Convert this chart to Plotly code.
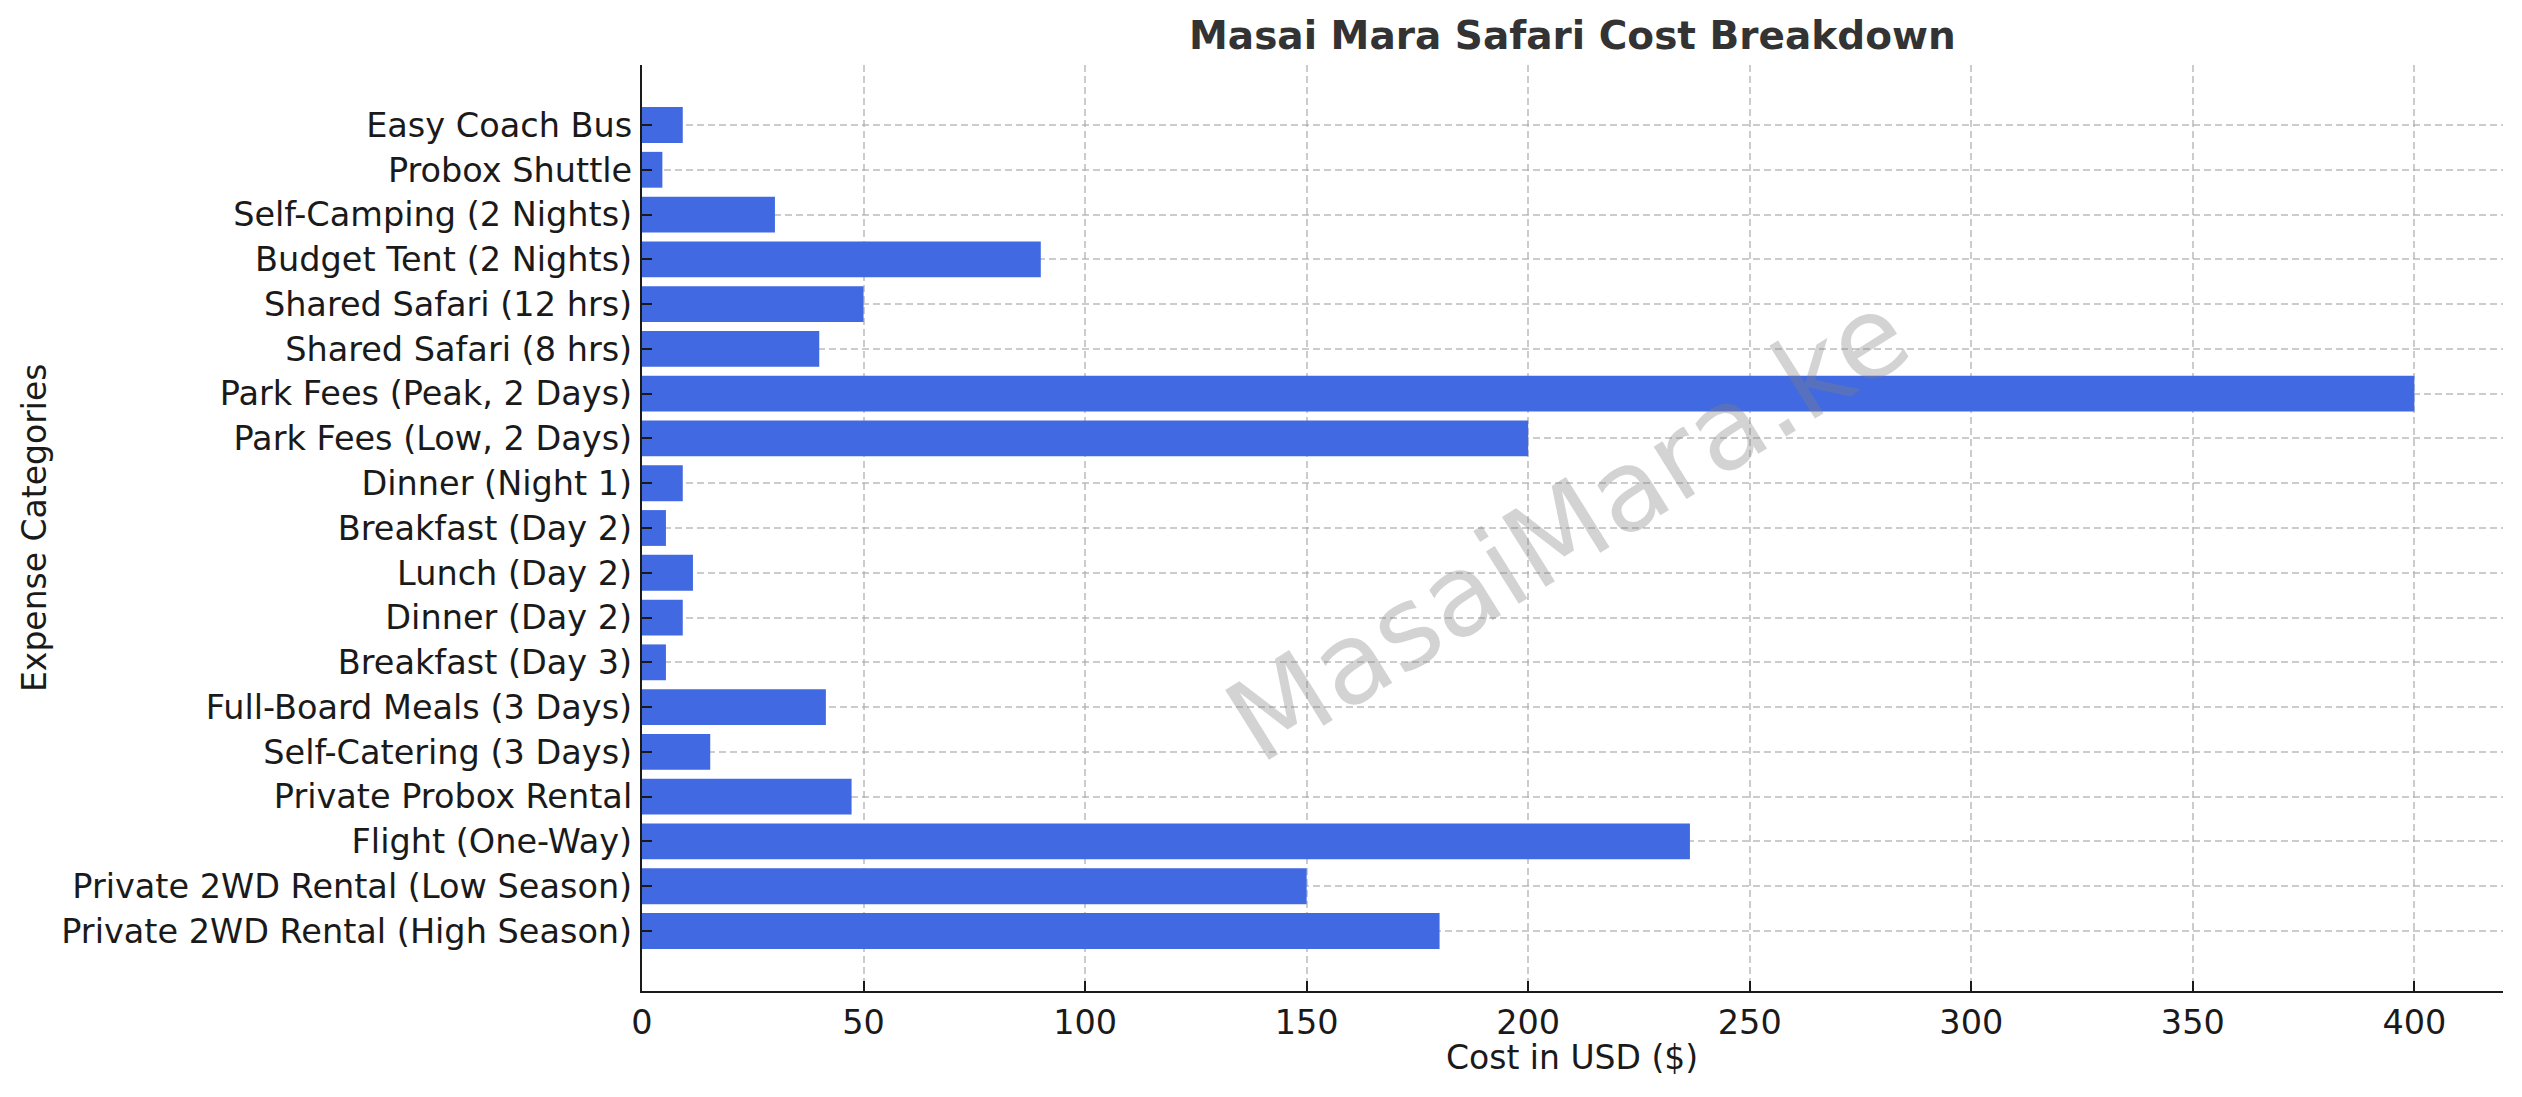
import plotly.graph_objects as go

categories = [
    "Private 2WD Rental (High Season)",
    "Private 2WD Rental (Low Season)",
    "Flight (One-Way)",
    "Private Probox Rental",
    "Self-Catering (3 Days)",
    "Full-Board Meals (3 Days)",
    "Breakfast (Day 3)",
    "Dinner (Day 2)",
    "Lunch (Day 2)",
    "Breakfast (Day 2)",
    "Dinner (Night 1)",
    "Park Fees (Low, 2 Days)",
    "Park Fees (Peak, 2 Days)",
    "Shared Safari (8 hrs)",
    "Shared Safari (12 hrs)",
    "Budget Tent (2 Nights)",
    "Self-Camping (2 Nights)",
    "Probox Shuttle",
    "Easy Coach Bus",
]
costs_usd = [180, 150, 236.5, 47.3, 15.4, 41.5, 5.4, 9.2, 11.5, 5.4, 9.2,
             200, 400, 40, 50, 90, 30, 4.6, 9.2]
x_ticks = [0, 50, 100, 150, 200, 250, 300, 350, 400]

# page body has an 8px margin; figure sized to fit the window
OFF = 8
W, H = 2522 - OFF, 1097 - OFF
# plot area in screen pixels: x 642..2503, y 65..991
px0, px1, py0, py1 = 642 - OFF, 2503 - OFF, 65 - OFF, 991 - OFF
L, R, T, B = px0, W - px1, py0, H - py1
FONT = "DejaVu Sans"
plot_w = px1 - px0
plot_h = py1 - py0


def paper_x(sx):
    return (sx - OFF - px0) / plot_w


def paper_y(sy):
    return 1 - (sy - OFF - py0) / plot_h


fig = go.Figure(go.Bar(
    x=costs_usd, y=categories, orientation="h",
    marker=dict(color="#4169E1", line=dict(width=0)),
    width=0.8,
))

fig.update_layout(
    width=W, height=H,
    margin=dict(l=L, r=R, t=T, b=B, pad=0, autoexpand=False),
    paper_bgcolor="white", plot_bgcolor="white",
    font=dict(family=FONT, size=33, color="#1a1a1a"),
    showlegend=False,
)

grid = dict(showgrid=True, gridcolor="rgba(170,170,170,0.6)", gridwidth=1.6,
            griddash="7px,4px")

fig.update_xaxes(
    range=[0, 420], tickvals=x_ticks, ticktext=[str(v) for v in x_ticks],
    ticks="inside", ticklen=10, tickwidth=2, tickcolor="#1a1a1a",
    showline=True, linecolor="#1a1a1a", linewidth=2.2, zeroline=False,
    tickfont=dict(size=33.5, color="#1a1a1a"), ticklabelstandoff=1,
    automargin=False,
    **grid,
)
fig.update_yaxes(
    type="category", categoryorder="array", categoryarray=categories,
    range=[-1.34, 19.34],
    ticks="inside", ticklen=10, tickwidth=2, tickcolor="#1a1a1a",
    showline=True, linecolor="#1a1a1a", linewidth=2.2, zeroline=False,
    tickfont=dict(size=33.5, color="#1a1a1a"), ticklabelstandoff=1,
    automargin=False,
    **grid,
)

fig.add_annotation(
    text="<b>Masai Mara Safari Cost Breakdown</b>",
    xref="paper", yref="paper",
    x=paper_x(1572), y=paper_y(36),
    xanchor="center", yanchor="middle", showarrow=False,
    font=dict(family=FONT, size=39, color="#333333"),
)
fig.add_annotation(
    text="Cost in USD ($)",
    xref="paper", yref="paper",
    x=paper_x(1572), y=paper_y(1057),
    xanchor="center", yanchor="middle", showarrow=False,
    font=dict(family=FONT, size=33, color="#1a1a1a"),
)
fig.add_annotation(
    text="Expense Categories",
    xref="paper", yref="paper",
    x=paper_x(34), y=0.5, textangle=-90,
    xanchor="center", yanchor="middle", showarrow=False,
    font=dict(family=FONT, size=33, color="#1a1a1a"),
)
fig.add_annotation(
    text="MasaiMara.ke",
    xref="paper", yref="paper",
    x=paper_x(1568), y=paper_y(527),
    xanchor="center", yanchor="middle", showarrow=False, textangle=-32,
    font=dict(family=FONT, size=113, color="rgba(128,128,128,0.35)"),
)

fig.write_html("out.html")
